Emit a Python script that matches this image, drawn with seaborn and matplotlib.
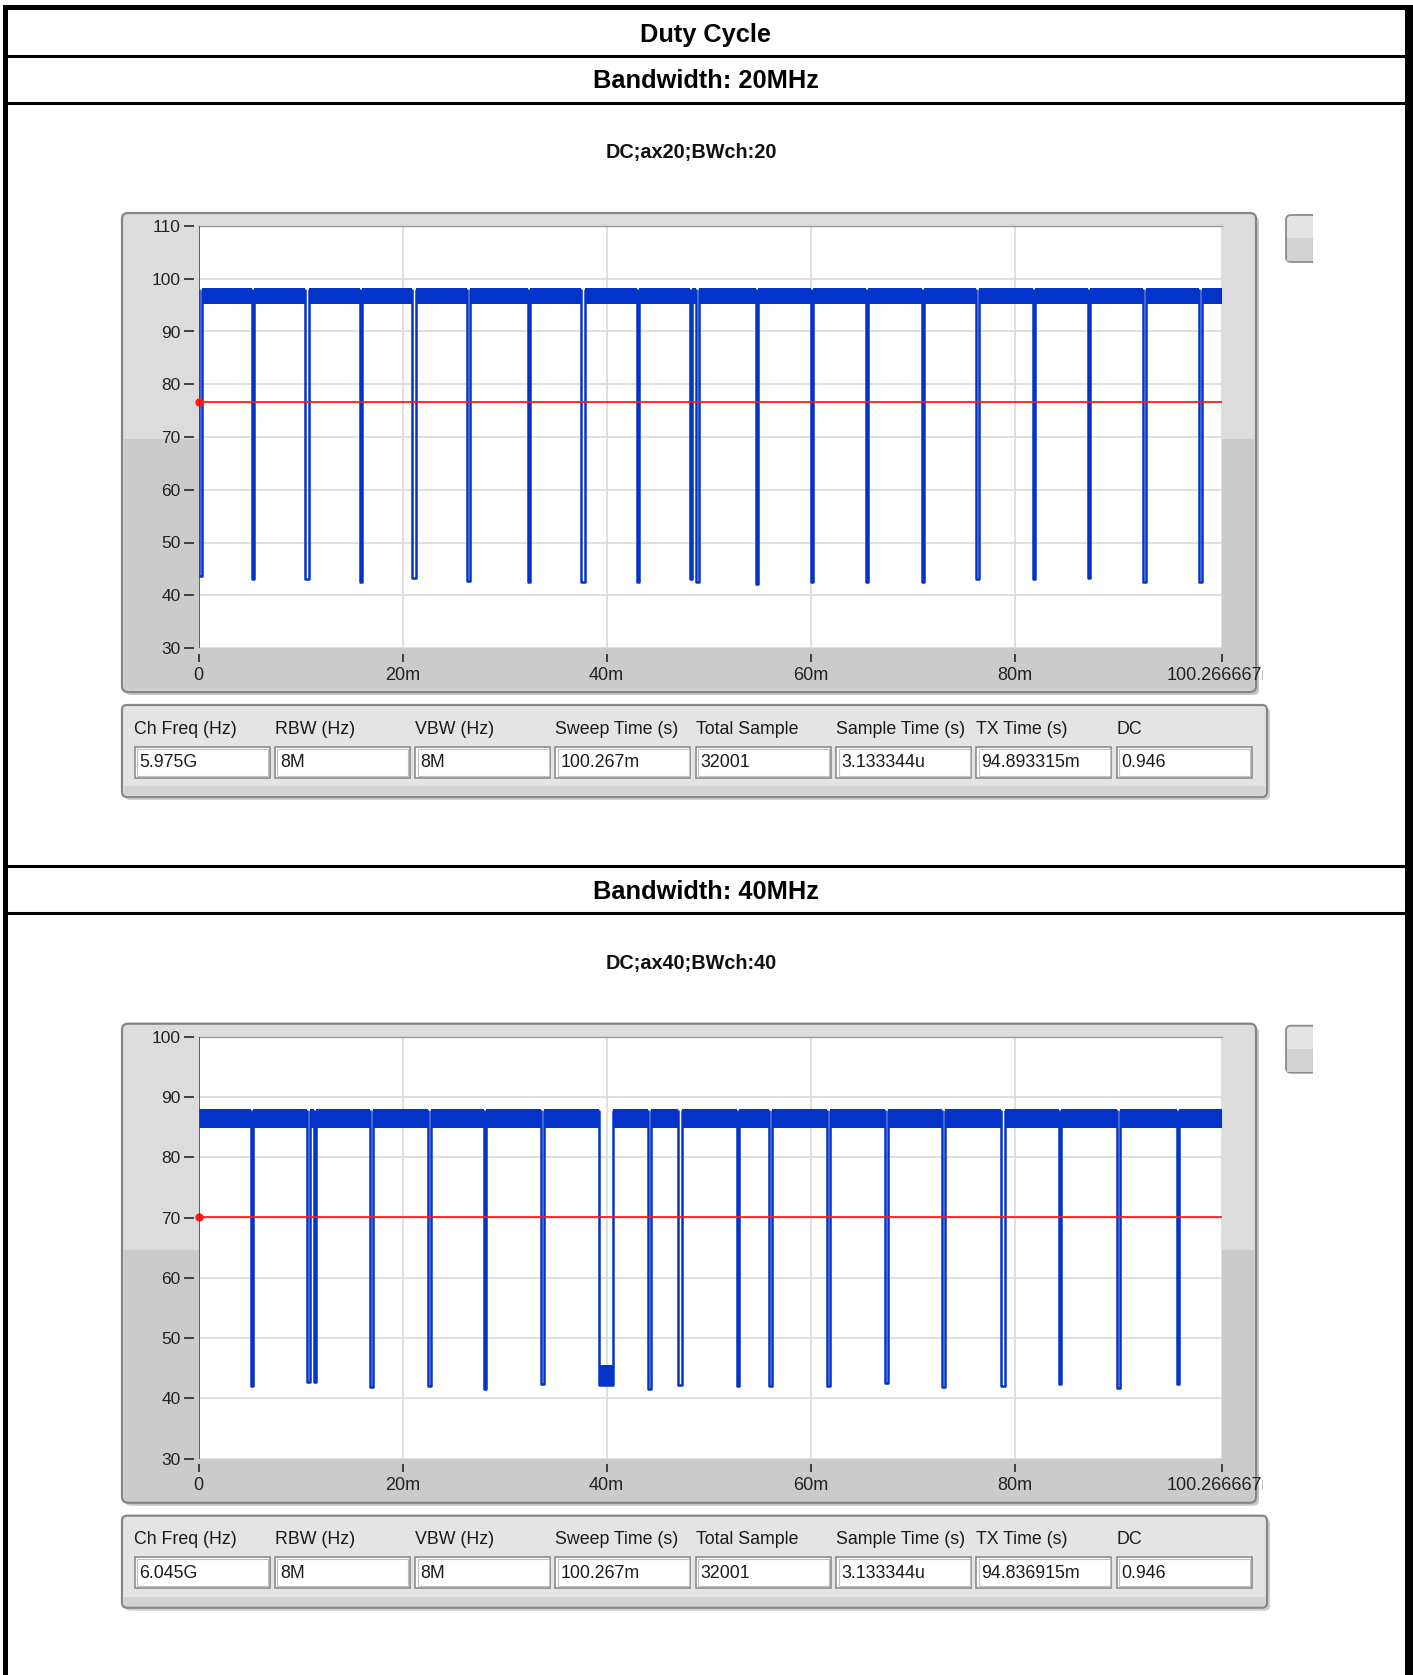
import numpy as np
import pandas as pd
import matplotlib
matplotlib.use('Agg')
import matplotlib.pyplot as plt
from matplotlib.patches import FancyBboxPatch, Rectangle
from matplotlib.transforms import Bbox, TransformedBbox
import seaborn as sns

# ---- values ----
sweep_ms = 100.266667
x_ticks = [0, 20, 40, 60, 80, 100.266667]
x_tick_labels = ['0', '20m', '40m', '60m', '80m', '100.266667m']

# 20 MHz capture
top_bw_title = 'Bandwidth: 20MHz'
top_dc_title = 'DC;ax20;BWch:20'
top_yticks = [30, 40, 50, 60, 70, 80, 90, 100, 110]
top_band = [95.2, 98.3]          # noise band of the "on" level (dB)
top_threshold = 76.6
top_dip_ms = [0.15, 5.35, 10.64, 15.9, 21.1, 26.46, 32.4, 37.7, 43.1, 48.3, 48.9,
              54.7, 60.1, 65.5, 71.0, 76.35, 81.9, 87.3, 92.7, 98.2]
top_dip_width = [0.3, 0.2, 0.35, 0.2, 0.35, 0.35, 0.2, 0.35, 0.2, 0.2, 0.3,
                 0.2, 0.2, 0.2, 0.2, 0.35, 0.2, 0.2, 0.3, 0.3]
top_dip_low = [43.6, 43.0, 43.0, 42.6, 43.3, 42.7, 42.6, 42.6, 42.6, 43.0, 42.6,
               42.2, 42.6, 42.6, 42.6, 43.0, 43.0, 43.3, 42.5, 42.5]
top_table = ['5.975G', '8M', '8M', '100.267m', '32001', '3.133344u', '94.893315m', '0.946']

# 40 MHz capture
bot_bw_title = 'Bandwidth: 40MHz'
bot_dc_title = 'DC;ax40;BWch:40'
bot_yticks = [30, 40, 50, 60, 70, 80, 90, 100]
bot_band = [84.8, 88.0]
bot_threshold = 70.1
bot_dip_ms = [5.25, 10.74, 11.4, 16.95, 22.6, 28.1, 33.7, 39.9, 44.2, 47.2,
              52.9, 56.1, 61.7, 67.4, 73.05, 78.85, 84.45, 90.2, 96.0]
bot_dip_width = [0.25, 0.3, 0.25, 0.3, 0.3, 0.2, 0.35, 1.35, 0.2, 0.35,
                 0.2, 0.3, 0.3, 0.3, 0.3, 0.4, 0.2, 0.3, 0.2]
bot_dip_low = [42.1, 42.7, 42.7, 41.9, 42.1, 41.6, 42.4, 42.3, 41.6, 42.3,
               42.1, 42.1, 42.1, 42.6, 41.9, 42.1, 42.4, 41.8, 42.4]
bot_burst_ms = [39.25, 40.6]      # wide gap filled with low-level noise
bot_burst_db = [42.3, 45.6]
bot_table = ['6.045G', '8M', '8M', '100.267m', '32001', '3.133344u', '94.836915m', '0.946']

table_headers = ['Ch Freq (Hz)', 'RBW (Hz)', 'VBW (Hz)', 'Sweep Time (s)', 'Total Sample',
                 'Sample Time (s)', 'TX Time (s)', 'DC']

BLUE = '#0333c9'
W, H = 1413, 1675
SECTION_OFFSET = 810.7

sns.set_theme(style='white')
plt.rcParams['font.family'] = ['Liberation Sans', 'DejaVu Sans']

fig = plt.figure(figsize=(W / 100, H / 100), dpi=100)
bg = fig.add_axes([0, 0, 1, 1])
bg.set_xlim(0, W)
bg.set_ylim(H, 0)
bg.axis('off')


def build_trace(centers, widths, lows, on_level):
    t, lvl = [0.0], [on_level]
    for c, w, lo in zip(centers, widths, lows):
        s, e = max(c - w / 2, 0.0), c + w / 2
        t += [s, s, e, e]
        lvl += [on_level, lo, lo, on_level]
    t.append(sweep_ms)
    lvl.append(on_level)
    df = pd.DataFrame({'t': t, 'level': lvl})
    df['on'] = df['level'] == on_level
    return df


def draw_section(off, bw_title, dc_title, yticks, band, threshold,
                 dips, widths, lows, table_vals, burst=None):
    # header rows
    bg.hlines([off + 55.5, off + 102.5], 3, W, color='black', lw=2.2)
    bg.text(706, off + 81, bw_title, ha='center', va='center',
            fontsize=18.3, fontweight='bold', color='black')
    bg.text(691, off + 152.5, dc_title, ha='center', va='center',
            fontsize=14.3, fontweight='bold', color='#111111')

    # graph frame
    bg.add_patch(FancyBboxPatch((125, off + 216), 1134, 479,
                                boxstyle='round,pad=0,rounding_size=6',
                                fc='#c4c4c4', ec='none'))
    bg.add_patch(FancyBboxPatch((122, off + 213), 1134, 479,
                                boxstyle='round,pad=0,rounding_size=6',
                                fc='#dcdcdc', ec='none'))
    bg.add_patch(Rectangle((124, off + 439), 1130, 251, fc='#cbcbcb', ec='none'))
    bg.add_patch(FancyBboxPatch((122, off + 213), 1134, 479,
                                boxstyle='round,pad=0,rounding_size=6',
                                fc='none', ec='#858585', lw=1.6))

    # small button at the right
    bg.add_patch(FancyBboxPatch((1286, off + 215), 40, 47,
                                boxstyle='round,pad=0,rounding_size=5',
                                fc='#e4e4e4', ec='#8a8a8a', lw=1.3))
    bg.add_patch(Rectangle((1287, off + 238), 38, 23, fc='#d2d2d2', ec='none'))
    bg.add_patch(Rectangle((1313, off + 205), 90, 70, fc='white', ec='none'))

    # table of measurement values
    bg.add_patch(FancyBboxPatch((125, off + 708), 1145, 92,
                                boxstyle='round,pad=0,rounding_size=5',
                                fc='#cfcfcf', ec='none'))
    bg.add_patch(FancyBboxPatch((122, off + 705), 1145, 92,
                                boxstyle='round,pad=0,rounding_size=5',
                                fc='#e4e4e4', ec='#878787', lw=1.6))
    bg.add_patch(Rectangle((124, off + 786), 1141, 9, fc='#d3d3d3', ec='none'))
    for i, (lab, val) in enumerate(zip(table_headers, table_vals)):
        left = 134.5 + 140.3 * i
        bg.text(left, off + 729, lab, ha='left', va='center', fontsize=12.8, color='#1a1a1a')
        bg.add_patch(Rectangle((left, off + 746.5), 135, 31, fc='white', ec='#8c8c8c', lw=1.2))
        bg.add_patch(Rectangle((left + 2.5, off + 748.5), 131, 27, fc='none', ec='#c0c0c0', lw=0.8))
        bg.text(left + 5, off + 762.5, val, ha='left', va='center', fontsize=12.8, color='#1a1a1a')

    # data axes
    top_px, bot_px = off + 226, off + 648
    ax = fig.add_axes([198.6 / W, 1 - bot_px / H, (1221.5 - 198.6) / W, (bot_px - top_px) / H])
    ax.set_facecolor('white')
    df = build_trace(dips, widths, lows, band[1] - 0.4)
    ax.fill_between(df['t'], band[0], band[1], where=df['on'], color=BLUE, lw=0, zorder=2)
    if burst is not None:
        ax.fill_between(burst[0], burst[1][0], burst[1][1], color=BLUE, lw=0, zorder=2)
    sns.lineplot(data=df, x='t', y='level', sort=False, estimator=None,
                 color=BLUE, lw=1.8, ax=ax, zorder=3)
    ax.axhline(threshold, color='#ff1a1a', lw=1.3, zorder=4)
    ax.plot([0], [threshold], 'o', color='#ff1a1a', ms=5, clip_on=False, zorder=5)
    ax.axvline(0, color='#4a4a4a', lw=1.2, zorder=6)

    ax.set_xlim(0, sweep_ms)
    ax.set_ylim(yticks[0], yticks[-1])
    ax.set_xticks(x_ticks)
    ax.set_xticklabels(x_tick_labels)
    ax.set_yticks(yticks)
    ax.set_yticklabels([str(v) for v in yticks])
    ax.grid(True, color='#dadada', lw=1.2)
    ax.set_axisbelow(True)
    ax.set_xlabel('')
    ax.set_ylabel('')
    for s in ['right', 'bottom', 'left']:
        ax.spines[s].set_visible(False)
    ax.spines['top'].set_color('#9a9a9a')
    ax.spines['top'].set_linewidth(1.0)
    ax.spines['left'].set_position(('outward', 3))
    ax.spines['bottom'].set_position(('outward', 4))
    ax.tick_params(axis='y', direction='out', length=7, width=1.3, color='#333333',
                   pad=3, labelsize=12.5, labelcolor='#222222', left=True)
    ax.tick_params(axis='x', direction='out', length=6, width=1.3, color='#333333',
                   pad=3.5, labelsize=13, labelcolor='#222222', bottom=True)
    # the last x label is cut off at the graph frame, as in the screenshot
    clip = TransformedBbox(Bbox.from_extents(122 / W, 1 - (off + 692) / H,
                                             1263 / W, 1 - (off + 213) / H), fig.transFigure)
    for lab in ax.get_xticklabels():
        lab.set_clip_on(True)
        lab.set_clip_box(clip)
    return ax


# page borders and main title
bg.add_patch(Rectangle((3, 5), 5, H, fc='black', ec='none'))
bg.add_patch(Rectangle((1405, 5), 8, H, fc='black', ec='none'))
bg.add_patch(Rectangle((3, 5), 1410, 5, fc='black', ec='none'))
bg.text(706, 35, 'Duty Cycle', ha='center', va='center', fontsize=18.3,
        fontweight='bold', color='black')

draw_section(0, top_bw_title, top_dc_title, top_yticks, top_band, top_threshold,
             top_dip_ms, top_dip_width, top_dip_low, top_table)
draw_section(SECTION_OFFSET, bot_bw_title, bot_dc_title, bot_yticks, bot_band, bot_threshold,
             bot_dip_ms, bot_dip_width, bot_dip_low, bot_table,
             burst=(bot_burst_ms, bot_burst_db))

fig.savefig('out.png', dpi=100)
